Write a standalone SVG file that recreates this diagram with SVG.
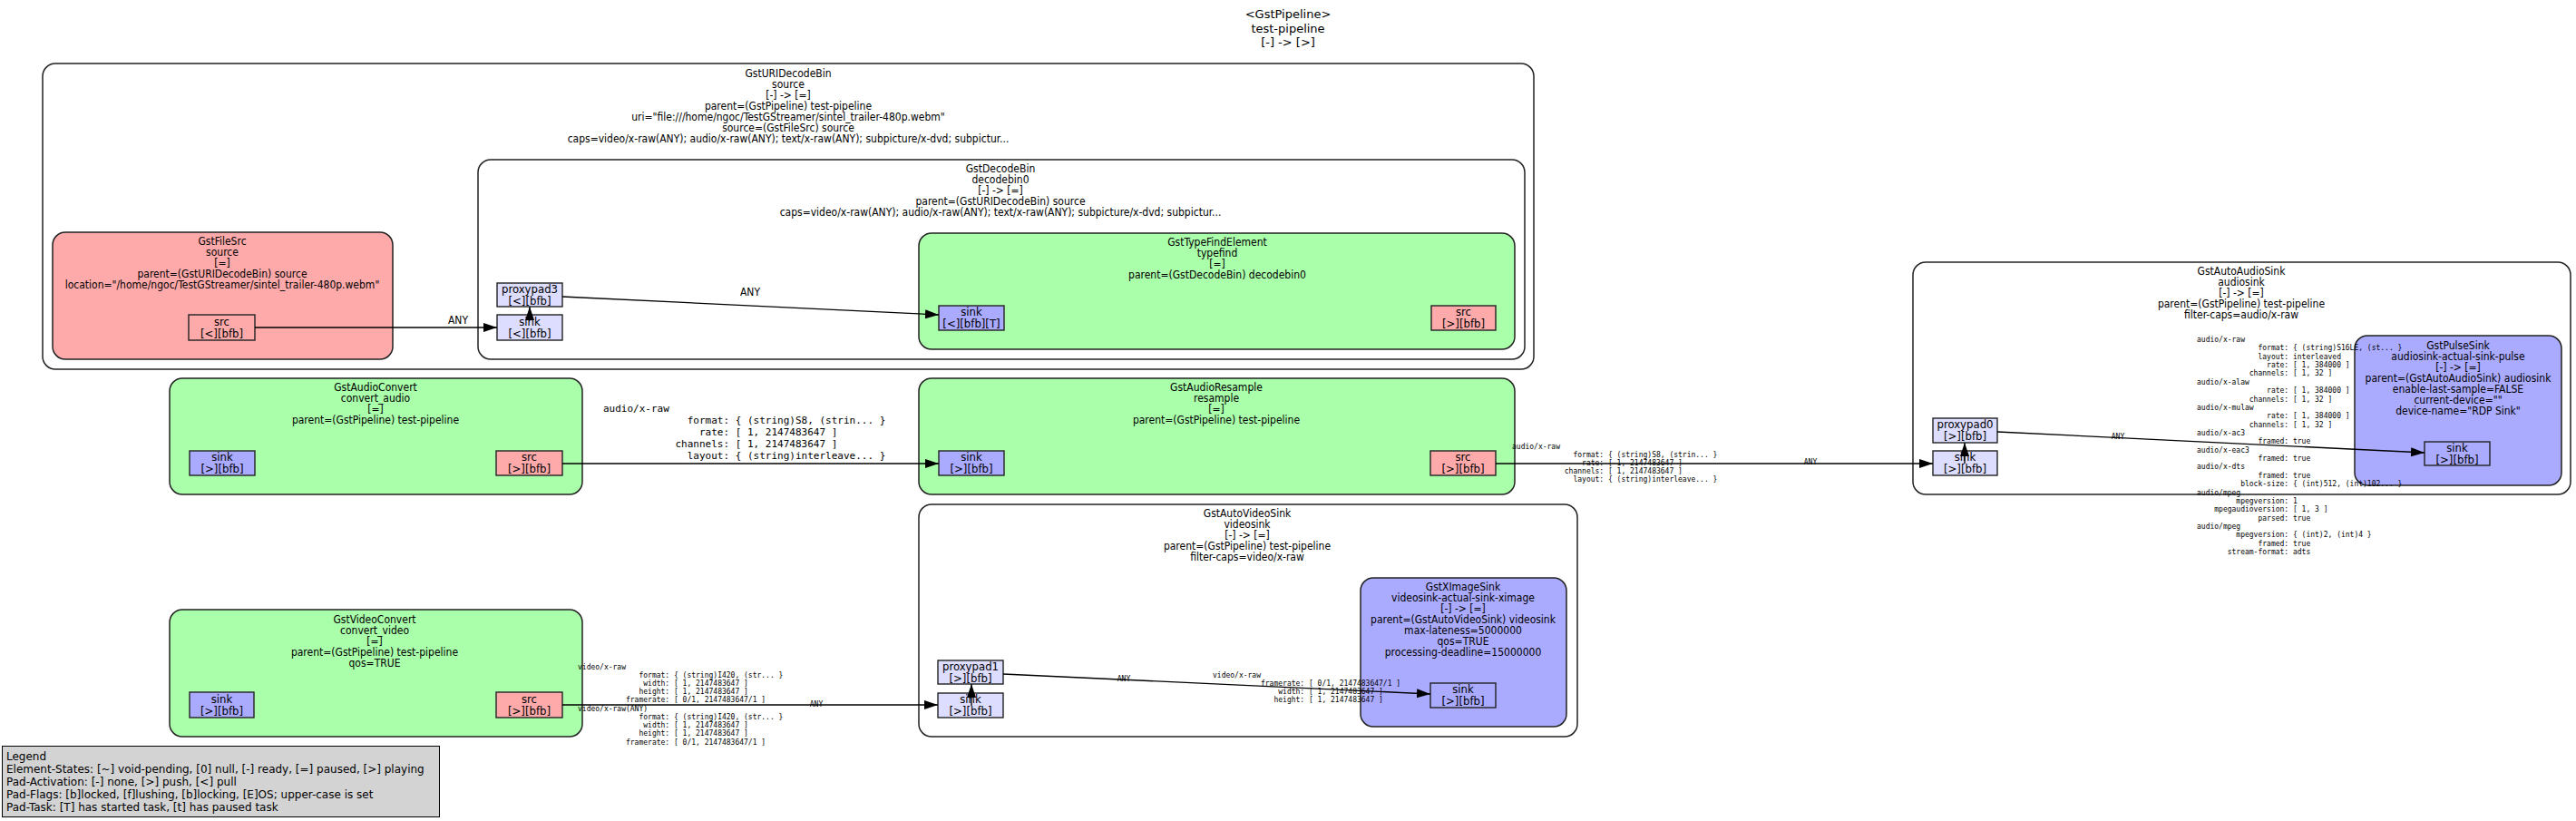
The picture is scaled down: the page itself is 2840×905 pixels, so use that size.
<svg xmlns="http://www.w3.org/2000/svg" width="2840" height="905" viewBox="0 0 2840 905">
<style>
.t{font-family:"DejaVu Sans Condensed","DejaVu Sans",sans-serif;font-stretch:condensed;font-size:12px;text-anchor:middle;fill:#000}
.p{font-family:"DejaVu Sans Condensed","DejaVu Sans",sans-serif;font-stretch:condensed;font-size:13px;text-anchor:middle;fill:#000}
.ti{font-family:"DejaVu Sans",sans-serif;font-size:13px;text-anchor:middle;fill:#000}
.lg{font-family:"DejaVu Sans",sans-serif;font-size:12px;fill:#000}
.m{font-family:"DejaVu Sans Mono","Liberation Mono",monospace;font-size:8px;fill:#000;white-space:pre}
.m11{font-family:"DejaVu Sans Mono","Liberation Mono",monospace;font-size:11px;fill:#000;white-space:pre}
.bin{fill:#fff;stroke:#222;stroke-width:1.5}
.fil{fill:#aaffaa;stroke:#222;stroke-width:1.5}
.srcel{fill:#ffaaaa;stroke:#222;stroke-width:1.5}
.snkel{fill:#aaaaff;stroke:#222;stroke-width:1.5}
.ps{fill:#aaaaff;stroke:#222;stroke-width:1.4}
.pr{fill:#ffaaaa;stroke:#222;stroke-width:1.4}
.pg{fill:#ddddff;stroke:#222;stroke-width:1.4}
.e{fill:none;stroke:#000;stroke-width:1.3}
</style>
<defs>
<marker id="ah" markerUnits="userSpaceOnUse" markerWidth="16" markerHeight="12" refX="15" refY="5" orient="auto">
<path d="M0,0 L15,5 L0,10 z" fill="#000"/>
</marker>
</defs>
<rect width="2840" height="905" fill="#fff"/>

<g id="title">
<text class="ti" x="1420" y="20">&lt;GstPipeline&gt;</text>
<text class="ti" x="1420" y="36">test-pipeline</text>
<text class="ti" x="1420" y="51">[-] -&gt; [&gt;]</text>
</g>

<g id="uridecodebin">
<rect class="bin" x="47" y="70" width="1644" height="337" rx="14"/>
<text class="t" x="869" y="85">GstURIDecodeBin</text>
<text class="t" x="869" y="97">source</text>
<text class="t" x="869" y="109">[-] -&gt; [=]</text>
<text class="t" x="869" y="121">parent=(GstPipeline) test-pipeline</text>
<text class="t" x="869" y="133">uri="file:///home/ngoc/TestGStreamer/sintel_trailer-480p.webm"</text>
<text class="t" x="869" y="145">source=(GstFileSrc) source</text>
<text class="t" x="869" y="157">caps=video/x-raw(ANY); audio/x-raw(ANY); text/x-raw(ANY); subpicture/x-dvd; subpictur...</text>
</g>

<g id="filesrc">
<rect class="srcel" x="58" y="256" width="375" height="140" rx="14"/>
<text class="t" x="245" y="270">GstFileSrc</text>
<text class="t" x="245" y="282">source</text>
<text class="t" x="245" y="294">[=]</text>
<text class="t" x="245" y="306">parent=(GstURIDecodeBin) source</text>
<text class="t" x="245" y="318">location="/home/ngoc/TestGStreamer/sintel_trailer-480p.webm"</text>
<rect class="pr" x="208" y="347" width="73" height="28"/>
<text class="p" x="244.5" y="358.5">src</text>
<text class="p" x="244.5" y="371.5">[&lt;][bfb]</text>
</g>

<g id="decodebin">
<rect class="bin" x="527" y="176" width="1154" height="220" rx="14"/>
<text class="t" x="1103" y="190">GstDecodeBin</text>
<text class="t" x="1103" y="202">decodebin0</text>
<text class="t" x="1103" y="214">[-] -&gt; [=]</text>
<text class="t" x="1103" y="226">parent=(GstURIDecodeBin) source</text>
<text class="t" x="1103" y="238">caps=video/x-raw(ANY); audio/x-raw(ANY); text/x-raw(ANY); subpicture/x-dvd; subpictur...</text>
<rect class="pg" x="548" y="312" width="72" height="26"/>
<text class="p" x="584" y="322.5">proxypad3</text>
<text class="p" x="584" y="335.5">[&lt;][bfb]</text>
<rect class="pg" x="548" y="347" width="72" height="28"/>
<text class="p" x="584" y="358.5">sink</text>
<text class="p" x="584" y="371.5">[&lt;][bfb]</text>
</g>

<g id="typefind">
<rect class="fil" x="1013" y="257" width="657" height="128" rx="14"/>
<text class="t" x="1342" y="271">GstTypeFindElement</text>
<text class="t" x="1342" y="283">typefind</text>
<text class="t" x="1342" y="295">[=]</text>
<text class="t" x="1342" y="307">parent=(GstDecodeBin) decodebin0</text>
<rect class="ps" x="1035" y="337" width="72" height="27"/>
<text class="p" x="1071" y="348">sink</text>
<text class="p" x="1071" y="361">[&lt;][bfb][T]</text>
<rect class="pr" x="1578" y="337" width="71" height="27"/>
<text class="p" x="1613.5" y="348">src</text>
<text class="p" x="1613.5" y="361">[&gt;][bfb]</text>
</g>

<g id="convert_audio">
<rect class="fil" x="187" y="417" width="455" height="128" rx="14"/>
<text class="t" x="414" y="431">GstAudioConvert</text>
<text class="t" x="414" y="443">convert_audio</text>
<text class="t" x="414" y="455">[=]</text>
<text class="t" x="414" y="467">parent=(GstPipeline) test-pipeline</text>
<rect class="ps" x="209" y="497" width="72" height="27"/>
<text class="p" x="245" y="508">sink</text>
<text class="p" x="245" y="521">[&gt;][bfb]</text>
<rect class="pr" x="547" y="497" width="73" height="27"/>
<text class="p" x="583.5" y="508">src</text>
<text class="p" x="583.5" y="521">[&gt;][bfb]</text>
</g>

<g id="resample">
<rect class="fil" x="1013" y="417" width="657" height="128" rx="14"/>
<text class="t" x="1341" y="431">GstAudioResample</text>
<text class="t" x="1341" y="443">resample</text>
<text class="t" x="1341" y="455">[=]</text>
<text class="t" x="1341" y="467">parent=(GstPipeline) test-pipeline</text>
<rect class="ps" x="1035" y="497" width="72" height="27"/>
<text class="p" x="1071" y="508">sink</text>
<text class="p" x="1071" y="521">[&gt;][bfb]</text>
<rect class="pr" x="1577" y="497" width="72" height="27"/>
<text class="p" x="1613" y="508">src</text>
<text class="p" x="1613" y="521">[&gt;][bfb]</text>
</g>

<g id="convert_video">
<rect class="fil" x="187" y="672" width="455" height="140" rx="14"/>
<text class="t" x="413" y="687">GstVideoConvert</text>
<text class="t" x="413" y="699">convert_video</text>
<text class="t" x="413" y="711">[=]</text>
<text class="t" x="413" y="723">parent=(GstPipeline) test-pipeline</text>
<text class="t" x="413" y="735">qos=TRUE</text>
<rect class="ps" x="209" y="763" width="71" height="28"/>
<text class="p" x="244.5" y="774.5">sink</text>
<text class="p" x="244.5" y="787.5">[&gt;][bfb]</text>
<rect class="pr" x="547" y="763" width="73" height="28"/>
<text class="p" x="583.5" y="774.5">src</text>
<text class="p" x="583.5" y="787.5">[&gt;][bfb]</text>
</g>

<g id="videosink">
<rect class="bin" x="1013" y="556" width="726" height="256" rx="14"/>
<text class="t" x="1375" y="570">GstAutoVideoSink</text>
<text class="t" x="1375" y="582">videosink</text>
<text class="t" x="1375" y="594">[-] -&gt; [=]</text>
<text class="t" x="1375" y="606">parent=(GstPipeline) test-pipeline</text>
<text class="t" x="1375" y="618">filter-caps=video/x-raw</text>
<rect class="pg" x="1034" y="728" width="72" height="26"/>
<text class="p" x="1070" y="738.5">proxypad1</text>
<text class="p" x="1070" y="751.5">[&gt;][bfb]</text>
<rect class="pg" x="1034" y="764" width="72" height="27"/>
<text class="p" x="1070" y="775">sink</text>
<text class="p" x="1070" y="788">[&gt;][bfb]</text>
</g>

<g id="ximagesink">
<rect class="snkel" x="1500" y="637" width="227" height="164" rx="14"/>
<text class="t" x="1613" y="651">GstXImageSink</text>
<text class="t" x="1613" y="663">videosink-actual-sink-ximage</text>
<text class="t" x="1613" y="675">[-] -&gt; [=]</text>
<text class="t" x="1613" y="687">parent=(GstAutoVideoSink) videosink</text>
<text class="t" x="1613" y="699">max-lateness=5000000</text>
<text class="t" x="1613" y="711">qos=TRUE</text>
<text class="t" x="1613" y="723">processing-deadline=15000000</text>
<rect class="ps" x="1577" y="753" width="72" height="27"/>
<text class="p" x="1613" y="764">sink</text>
<text class="p" x="1613" y="777">[&gt;][bfb]</text>
</g>

<g id="audiosink">
<rect class="bin" x="2109" y="289" width="725" height="256" rx="14"/>
<text class="t" x="2471" y="303">GstAutoAudioSink</text>
<text class="t" x="2471" y="315">audiosink</text>
<text class="t" x="2471" y="327">[-] -&gt; [=]</text>
<text class="t" x="2471" y="339">parent=(GstPipeline) test-pipeline</text>
<text class="t" x="2471" y="351">filter-caps=audio/x-raw</text>
<rect class="pg" x="2131" y="461" width="71" height="27"/>
<text class="p" x="2166.5" y="472">proxypad0</text>
<text class="p" x="2166.5" y="485">[&gt;][bfb]</text>
<rect class="pg" x="2131" y="497" width="71" height="27"/>
<text class="p" x="2166.5" y="508">sink</text>
<text class="p" x="2166.5" y="521">[&gt;][bfb]</text>
</g>

<g id="pulsesink">
<rect class="snkel" x="2596" y="370" width="228" height="165" rx="14"/>
<text class="t" x="2710" y="385">GstPulseSink</text>
<text class="t" x="2710" y="397">audiosink-actual-sink-pulse</text>
<text class="t" x="2710" y="409">[-] -&gt; [=]</text>
<text class="t" x="2710" y="421">parent=(GstAutoAudioSink) audiosink</text>
<text class="t" x="2710" y="433">enable-last-sample=FALSE</text>
<text class="t" x="2710" y="445">current-device=""</text>
<text class="t" x="2710" y="457">device-name="RDP Sink"</text>
<rect class="ps" x="2673" y="487" width="72" height="26"/>
<text class="p" x="2709" y="497.5">sink</text>
<text class="p" x="2709" y="510.5">[&gt;][bfb]</text>
</g>

<g id="connectors">
<path class="e" d="M281,361 L548,361" marker-end="url(#ah)"/>
<text class="t" x="505" y="357">ANY</text>
<path class="e" d="M620,327 L1035,347" marker-end="url(#ah)"/>
<text class="t" x="827" y="326">ANY</text>
<path class="e" d="M584,353 L584,338" marker-end="url(#ah)"/>

<path class="e" d="M620,511 L1035,511" marker-end="url(#ah)"/>
<g xml:space="preserve">
<text class="m11" x="665" y="454">audio/x-raw</text>
<text class="m11" x="665" y="467">              format: { (string)S8, (strin... }</text>
<text class="m11" x="665" y="480">                rate: [ 1, 2147483647 ]</text>
<text class="m11" x="665" y="493">            channels: [ 1, 2147483647 ]</text>
<text class="m11" x="665" y="506">              layout: { (string)interleave... }</text>
</g>

<path class="e" d="M1649,511 L2131,511" marker-end="url(#ah)"/>
<g xml:space="preserve">
<text class="m" x="1667" y="495">audio/x-raw</text>
<text class="m" x="1667" y="504">              format: { (string)S8, (strin... }</text>
<text class="m" x="1667" y="513">                rate: [ 1, 2147483647 ]</text>
<text class="m" x="1667" y="522">            channels: [ 1, 2147483647 ]</text>
<text class="m" x="1667" y="531">              layout: { (string)interleave... }</text>
<text class="m" x="1996" y="512" text-anchor="middle">ANY</text>
</g>
<path class="e" d="M2166,511 L2166,488" marker-end="url(#ah)"/>

<path class="e" d="M2202,476 L2673,499" marker-end="url(#ah)"/>
<text class="m" x="2335" y="484" text-anchor="middle">ANY</text>
<g xml:space="preserve">
<text class="m" x="2422" y="377">audio/x-raw</text>
<text class="m" x="2422" y="386.4">              format: { (string)S16LE, (st... }</text>
<text class="m" x="2422" y="395.7">              layout: interleaved</text>
<text class="m" x="2422" y="405.1">                rate: [ 1, 384000 ]</text>
<text class="m" x="2422" y="414.4">            channels: [ 1, 32 ]</text>
<text class="m" x="2422" y="423.8">audio/x-alaw</text>
<text class="m" x="2422" y="433.2">                rate: [ 1, 384000 ]</text>
<text class="m" x="2422" y="442.5">            channels: [ 1, 32 ]</text>
<text class="m" x="2422" y="451.9">audio/x-mulaw</text>
<text class="m" x="2422" y="461.2">                rate: [ 1, 384000 ]</text>
<text class="m" x="2422" y="470.6">            channels: [ 1, 32 ]</text>
<text class="m" x="2422" y="480">audio/x-ac3</text>
<text class="m" x="2422" y="489.3">              framed: true</text>
<text class="m" x="2422" y="498.7">audio/x-eac3</text>
<text class="m" x="2422" y="508">              framed: true</text>
<text class="m" x="2422" y="517.4">audio/x-dts</text>
<text class="m" x="2422" y="526.8">              framed: true</text>
<text class="m" x="2422" y="536.1">          block-size: { (int)512, (int)102... }</text>
<text class="m" x="2422" y="545.5">audio/mpeg</text>
<text class="m" x="2422" y="554.8">         mpegversion: 1</text>
<text class="m" x="2422" y="564.2">    mpegaudioversion: [ 1, 3 ]</text>
<text class="m" x="2422" y="573.6">              parsed: true</text>
<text class="m" x="2422" y="582.9">audio/mpeg</text>
<text class="m" x="2422" y="592.3">         mpegversion: { (int)2, (int)4 }</text>
<text class="m" x="2422" y="601.6">              framed: true</text>
<text class="m" x="2422" y="611">       stream-format: adts</text>
</g>

<path class="e" d="M620,777 L1034,777" marker-end="url(#ah)"/>
<text class="m" x="900" y="779" text-anchor="middle">ANY</text>
<g xml:space="preserve">
<text class="m" x="637" y="738">video/x-raw</text>
<text class="m" x="637" y="747">              format: { (string)I420, (str... }</text>
<text class="m" x="637" y="756">               width: [ 1, 2147483647 ]</text>
<text class="m" x="637" y="765">              height: [ 1, 2147483647 ]</text>
<text class="m" x="637" y="774">           framerate: [ 0/1, 2147483647/1 ]</text>
<text class="m" x="637" y="784">video/x-raw(ANY)</text>
<text class="m" x="637" y="793">              format: { (string)I420, (str... }</text>
<text class="m" x="637" y="802">               width: [ 1, 2147483647 ]</text>
<text class="m" x="637" y="811">              height: [ 1, 2147483647 ]</text>
<text class="m" x="637" y="821">           framerate: [ 0/1, 2147483647/1 ]</text>
</g>
<path class="e" d="M1071,778 L1071,754" marker-end="url(#ah)"/>

<path class="e" d="M1106,743 L1577,765" marker-end="url(#ah)"/>
<text class="m" x="1239" y="751" text-anchor="middle">ANY</text>
<g xml:space="preserve">
<text class="m" x="1337" y="747">video/x-raw</text>
<text class="m" x="1337" y="756">           framerate: [ 0/1, 2147483647/1 ]</text>
<text class="m" x="1337" y="765">               width: [ 1, 2147483647 ]</text>
<text class="m" x="1337" y="774">              height: [ 1, 2147483647 ]</text>
</g>
</g>

<g id="legend">
<rect x="2.5" y="822.5" width="482" height="78" fill="#d3d3d3" stroke="#000" stroke-width="1"/>
<text class="lg" x="7" y="838">Legend</text>
<text class="lg" x="7" y="852">Element-States: [~] void-pending, [0] null, [-] ready, [=] paused, [&gt;] playing</text>
<text class="lg" x="7" y="866">Pad-Activation: [-] none, [&gt;] push, [&lt;] pull</text>
<text class="lg" x="7" y="880">Pad-Flags: [b]locked, [f]lushing, [b]locking, [E]OS; upper-case is set</text>
<text class="lg" x="7" y="894">Pad-Task: [T] has started task, [t] has paused task</text>
</g>
</svg>
